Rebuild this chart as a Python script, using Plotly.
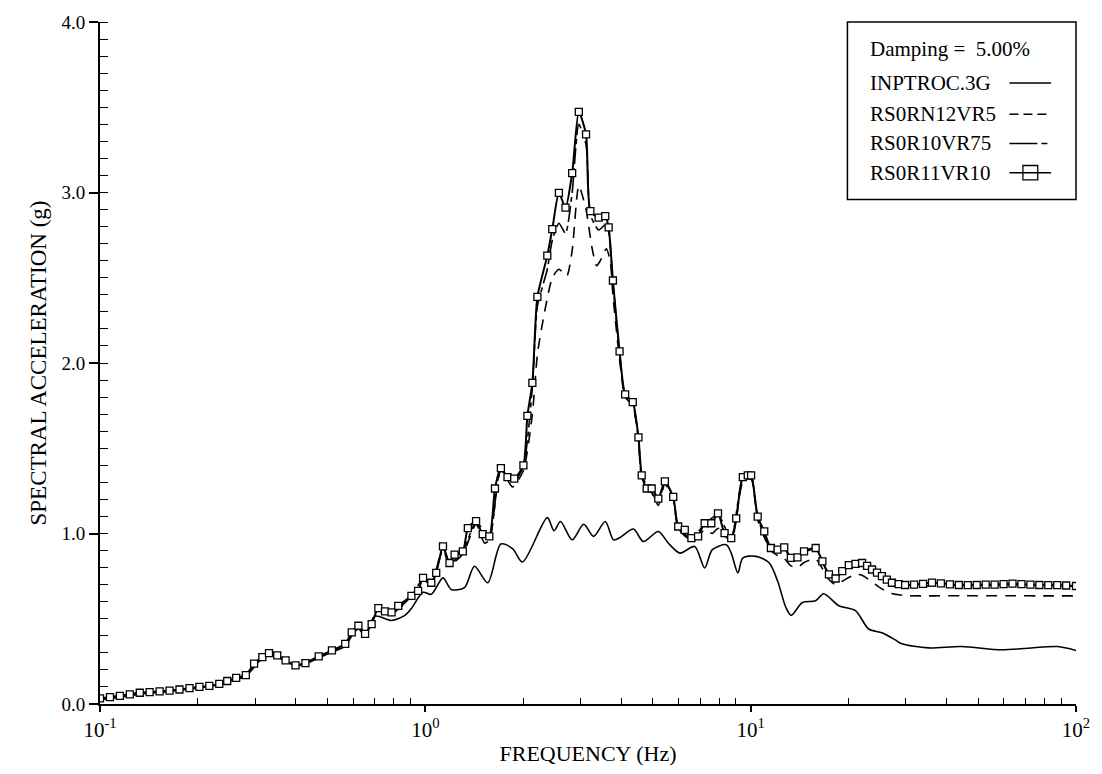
import plotly.graph_objects as go

# ---- response spectra (5% damping): frequency in Hz, spectral acceleration in g ----
inptroc_freq = [0.100, 0.1151, 0.1325, 0.1599, 0.1924, 0.2273, 0.2550, 0.2807, 0.2976, 0.3155,
                0.3307, 0.3506, 0.3719, 0.3990, 0.4280, 0.4701, 0.5163, 0.5672, 0.5941, 0.6227,
                0.6528, 0.7003, 0.7875, 0.8655, 0.9063, 0.9840, 1.043, 1.133, 1.201, 1.319,
                1.416, 1.555, 1.707, 1.854, 1.989, 2.371, 2.486, 2.603, 2.827, 3.068,
                3.291, 3.573, 3.788, 3.971, 4.362, 4.680, 5.201, 5.581, 6.056, 6.730,
                7.221, 7.623, 8.413, 8.714, 9.134, 9.461, 10.39, 11.41, 12.10, 12.83,
                13.31, 14.43, 15.84, 16.76, 18.66, 20.99, 23.05, 25.32, 27.82, 29.16,
                35.16, 44.48, 58.93, 71.05, 87.75, 100.0]
inptroc_sa = [0.025, 0.040, 0.058, 0.072, 0.090, 0.110, 0.140, 0.162, 0.225, 0.265,
              0.292, 0.283, 0.255, 0.225, 0.235, 0.270, 0.305, 0.340, 0.400, 0.440,
              0.400, 0.515, 0.490, 0.520, 0.560, 0.655, 0.643, 0.740, 0.672, 0.682,
              0.808, 0.711, 0.938, 0.911, 0.833, 1.093, 1.016, 1.070, 0.963, 1.054,
              0.983, 1.070, 0.963, 0.977, 1.026, 0.953, 1.012, 0.944, 0.885, 0.924,
              0.798, 0.905, 0.934, 0.885, 0.769, 0.857, 0.866, 0.827, 0.721, 0.566,
              0.520, 0.595, 0.605, 0.647, 0.576, 0.548, 0.440, 0.418, 0.376, 0.353,
              0.329, 0.337, 0.318, 0.327, 0.337, 0.314]

rs0rn12_freq = [0.100, 0.1325, 0.1755, 0.2326, 0.2807, 0.3155, 0.3307, 0.3719, 0.3990, 0.4701,
                0.5672, 0.6227, 0.6528, 0.7170, 0.7875, 0.9063, 0.9840, 1.043, 1.133, 1.187,
                1.304, 1.432, 1.520, 1.573, 1.707, 1.854, 2.002, 2.133, 2.210, 2.300,
                2.456, 2.574, 2.720, 2.827, 2.963, 3.119, 3.250, 3.360, 3.450, 3.600,
                3.700, 3.772, 3.954, 4.113, 4.341, 4.519, 4.625, 4.963, 5.201, 5.449,
                5.781, 5.988, 6.575, 7.221, 7.623, 7.936, 8.714, 9.461, 10.03, 10.51,
                11.54, 12.10, 12.68, 13.29, 13.93, 14.59, 15.84, 17.40, 18.24, 19.12,
                21.00, 22.00, 25.32, 27.18, 29.84, 44.48, 61.72, 81.79, 100.0]
rs0rn12_sa = [0.030, 0.064, 0.083, 0.115, 0.166, 0.270, 0.294, 0.253, 0.224, 0.276,
              0.350, 0.452, 0.405, 0.552, 0.530, 0.628, 0.728, 0.700, 0.905, 0.815,
              0.880, 1.055, 0.944, 0.960, 1.370, 1.273, 1.370, 1.700, 2.050, 2.250,
              2.500, 2.550, 2.510, 2.660, 3.040, 2.900, 2.680, 2.570, 2.600, 2.670,
              2.600, 2.400, 2.020, 1.800, 1.750, 1.550, 1.330, 1.240, 1.165, 1.290,
              1.200, 1.030, 0.960, 1.020, 1.000, 1.030, 0.953, 1.300, 1.320, 1.080,
              0.900, 0.870, 0.853, 0.810, 0.800, 0.830, 0.850, 0.730, 0.700, 0.720,
              0.760, 0.755, 0.675, 0.648, 0.636, 0.635, 0.635, 0.634, 0.634]

rs0r10_freq = [0.100, 0.1325, 0.1755, 0.2326, 0.2807, 0.3155, 0.3307, 0.3719, 0.3990, 0.4701,
               0.5672, 0.6227, 0.6528, 0.7170, 0.7875, 0.9063, 0.9840, 1.043, 1.133, 1.187,
               1.304, 1.432, 1.573, 1.707, 1.876, 2.002, 2.133, 2.210, 2.371, 2.456,
               2.574, 2.697, 2.827, 2.963, 3.119, 3.215, 3.410, 3.573, 3.660, 3.772,
               3.954, 4.113, 4.341, 4.519, 4.625, 4.963, 5.201, 5.449, 5.781, 5.988,
               6.575, 7.221, 7.936, 8.714, 9.461, 10.03, 10.51, 11.54, 12.68, 13.29,
               14.59, 15.84, 17.40, 18.24, 20.03, 22.00, 25.32, 29.84, 44.48, 61.72,
               81.79, 100.0]
rs0r10_sa = [0.032, 0.065, 0.084, 0.117, 0.168, 0.273, 0.297, 0.255, 0.226, 0.278,
             0.352, 0.455, 0.410, 0.558, 0.535, 0.632, 0.735, 0.708, 0.918, 0.825,
             0.893, 1.068, 0.975, 1.378, 1.310, 1.395, 1.860, 2.330, 2.550, 2.720,
             2.820, 2.760, 3.000, 3.400, 3.280, 2.870, 2.780, 2.810, 2.770, 2.470,
             2.060, 1.810, 1.760, 1.560, 1.340, 1.240, 1.185, 1.300, 1.210, 1.040,
             0.970, 1.055, 1.110, 0.968, 1.325, 1.335, 1.095, 0.912, 0.915, 0.855,
             0.890, 0.910, 0.755, 0.730, 0.810, 0.822, 0.745, 0.697, 0.697, 0.700,
             0.697, 0.690]

rs0r11_freq = [0.1000, 0.1073, 0.1151, 0.1235, 0.1325, 0.1421, 0.1525, 0.1636, 0.1755, 0.1884,
               0.2021, 0.2168, 0.2326, 0.2461, 0.2622, 0.2807, 0.2976, 0.3155, 0.3307, 0.3506,
               0.3719, 0.3990, 0.4280, 0.4701, 0.5163, 0.5672, 0.5941, 0.6227, 0.6528, 0.6839,
               0.7170, 0.7516, 0.7875, 0.8255, 0.9063, 0.9500, 0.9840, 1.043, 1.080, 1.133,
               1.187, 1.230, 1.304, 1.351, 1.432, 1.501, 1.573, 1.637, 1.707, 1.789,
               1.876, 2.002, 2.059, 2.133, 2.210, 2.371, 2.456, 2.574, 2.697, 2.827,
               2.963, 3.119, 3.215, 3.410, 3.573, 3.660, 3.772, 3.954, 4.113, 4.341,
               4.519, 4.625, 4.791, 4.963, 5.201, 5.449, 5.781, 5.988, 6.272, 6.575,
               6.893, 7.221, 7.569, 7.936, 8.313, 8.714, 9.026, 9.461, 9.797, 10.03,
               10.51, 11.01, 11.54, 12.10, 12.68, 13.29, 13.93, 14.59, 15.84, 16.61,
               17.40, 18.24, 19.12, 20.03, 21.00, 22.00, 22.80, 23.61, 24.45, 25.32,
               26.22, 27.18, 28.50, 29.84, 31.79, 33.87, 36.08, 38.43, 40.95, 43.63,
               46.48, 49.52, 52.77, 56.21, 59.89, 63.80, 67.97, 72.42, 77.16, 82.19,
               87.57, 93.28, 100.0]
rs0r11_sa = [0.033, 0.040, 0.048, 0.057, 0.066, 0.070, 0.074, 0.079, 0.085, 0.093,
             0.100, 0.106, 0.118, 0.135, 0.153, 0.169, 0.237, 0.275, 0.298, 0.285,
             0.256, 0.227, 0.240, 0.279, 0.314, 0.353, 0.420, 0.459, 0.411, 0.469,
             0.562, 0.543, 0.537, 0.576, 0.634, 0.663, 0.740, 0.711, 0.769, 0.924,
             0.827, 0.876, 0.895, 1.031, 1.072, 0.996, 0.983, 1.264, 1.384, 1.331,
             1.322, 1.399, 1.690, 1.884, 2.388, 2.630, 2.785, 2.998, 2.911, 3.114,
             3.473, 3.341, 2.891, 2.853, 2.862, 2.795, 2.484, 2.068, 1.816, 1.771,
             1.564, 1.341, 1.264, 1.264, 1.205, 1.306, 1.215, 1.041, 1.021, 0.973,
             0.983, 1.060, 1.060, 1.118, 1.002, 0.973, 1.089, 1.331, 1.341, 1.341,
             1.099, 1.012, 0.915, 0.905, 0.919, 0.857, 0.860, 0.895, 0.915, 0.837,
             0.760, 0.736, 0.779, 0.814, 0.822, 0.827, 0.810, 0.789, 0.770, 0.750,
             0.730, 0.711, 0.703, 0.698, 0.700, 0.705, 0.712, 0.708, 0.702, 0.698,
             0.697, 0.698, 0.700, 0.700, 0.703, 0.706, 0.703, 0.700, 0.698, 0.697,
             0.697, 0.695, 0.692]

series_names = ["INPTROC.3G", "RS0RN12VR5", "RS0R10VR75", "RS0R11VR10"]
damping_label = "Damping =  5.00%"

x_major_vals = [0.1, 1, 10, 100]
x_major_text = ["10<sup>-1</sup>", "10<sup>0</sup>", "10<sup>1</sup>", "10<sup>2</sup>"]
x_minor_vals = [m * d for d in (0.1, 1, 10) for m in range(2, 10)]

FONT = "Liberation Serif"
INK = "black"

fig = go.Figure()

fig.add_trace(go.Scatter(x=inptroc_freq, y=inptroc_sa, mode="lines", name=series_names[0],
                         line=dict(color=INK, width=1.6, shape="spline", smoothing=0.8)))
fig.add_trace(go.Scatter(x=rs0rn12_freq, y=rs0rn12_sa, mode="lines", name=series_names[1],
                         line=dict(color=INK, width=1.6, dash="11px,8px", shape="spline", smoothing=0.6)))
fig.add_trace(go.Scatter(x=rs0r10_freq, y=rs0r10_sa, mode="lines", name=series_names[2],
                         line=dict(color=INK, width=1.6, dash="16px,4px,5px,4px", shape="spline", smoothing=0.6)))
fig.add_trace(go.Scatter(x=rs0r11_freq, y=rs0r11_sa, mode="lines+markers", name=series_names[3],
                         line=dict(color=INK, width=2.0, shape="spline", smoothing=0.6),
                         marker=dict(symbol="square", size=7, color="white",
                                     line=dict(color=INK, width=1.3))))

# ---- hand-drawn legend box in the upper right corner ----
shapes = [dict(type="rect", xref="paper", yref="paper", x0=0.7658, x1=1.0, y0=0.7398, y1=1.0,
               line=dict(color=INK, width=1.5), fillcolor="rgba(0,0,0,0)")]
annotations = []
row_y = [0.9608, 0.9106, 0.8648, 0.8219, 0.7791]
legend_font = dict(family=FONT, size=21, color=INK)
annotations.append(dict(text=damping_label, xref="paper", yref="paper", x=0.7872, y=row_y[0],
                        xanchor="left", yanchor="middle", showarrow=False, font=legend_font))
sample_dash = ["solid", "9px,5px", "28px,4px,6px,4px", "solid"]
for i, name in enumerate(series_names):
    yy = row_y[i + 1]
    annotations.append(dict(text=name, xref="paper", yref="paper", x=0.7872, y=yy,
                            xanchor="left", yanchor="middle", showarrow=False, font=legend_font))
    shapes.append(dict(type="line", xref="paper", yref="paper", x0=0.9318, x1=0.9745,
                       y0=yy, y1=yy, line=dict(color=INK, width=1.5, dash=sample_dash[i])))
sq_y = row_y[4]
shapes.append(dict(type="rect", xref="paper", yref="paper",
                   x0=0.9532 - 0.0076, x1=0.9532 + 0.0076, y0=sq_y - 0.0105, y1=sq_y + 0.0105,
                   line=dict(color=INK, width=1.3), fillcolor="rgba(0,0,0,0)"))

fig.update_layout(
    width=1102, height=774,
    margin=dict(l=100, r=20, t=16, b=70),
    paper_bgcolor="white", plot_bgcolor="white",
    showlegend=False,
    shapes=shapes, annotations=annotations,
    xaxis=dict(type="log", range=[-1, 2], tickvals=x_major_vals, ticktext=x_major_text,
               ticks="outside", ticklen=6, tickwidth=1.5, tickcolor=INK,
               minor=dict(tickvals=x_minor_vals, ticks="inside", ticklen=6, tickwidth=1.2,
                          tickcolor=INK, showgrid=False),
               showline=True, linecolor=INK, linewidth=2, showgrid=False, zeroline=False,
               tickfont=dict(family=FONT, size=21, color=INK),
               title=dict(text="FREQUENCY (Hz)", font=dict(family=FONT, size=22, color=INK),
                          standoff=4)),
    yaxis=dict(range=[0, 4], dtick=1, tickformat=".1f",
               ticks="outside", ticklen=9, tickwidth=1.5, tickcolor=INK,
               minor=dict(dtick=0.1, ticks="inside", ticklen=8, tickwidth=1.2,
                          tickcolor=INK, showgrid=False),
               showline=True, linecolor=INK, linewidth=2, showgrid=False, zeroline=False,
               tickfont=dict(family=FONT, size=19, color=INK),
               title=dict(text="SPECTRAL ACCELERATION (g)",
                          font=dict(family=FONT, size=23, color=INK), standoff=8)),
    xaxis2=dict(type="log", range=[-1, 2], overlaying="x", side="top", anchor="y",
                tickvals=x_minor_vals, ticks="inside", ticklen=6, tickwidth=1.2, tickcolor=INK,
                showticklabels=False, showline=True, linecolor=INK, linewidth=2,
                showgrid=False, zeroline=False),
    yaxis2=dict(range=[0, 4], overlaying="y", side="right", anchor="x",
                dtick=0.1, ticks="inside", ticklen=8, tickwidth=1.2, tickcolor=INK,
                showticklabels=False, showline=True, linecolor=INK, linewidth=2,
                showgrid=False, zeroline=False),
)

fig.write_html("out.html")
